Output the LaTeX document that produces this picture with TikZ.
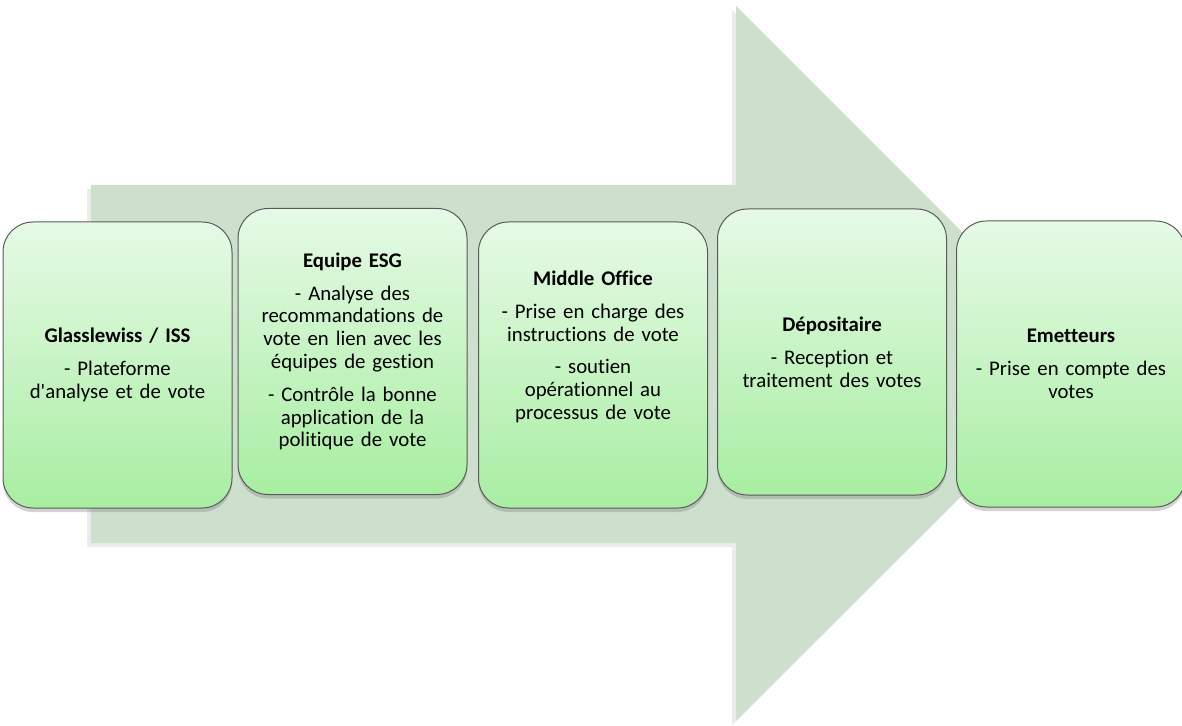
\documentclass[tikz,border=0pt]{standalone}
\usepackage{fontspec}
\setmainfont[Ligatures={TeX,NoCommon}]{Carlito}
\usepackage{tikz}
\usetikzlibrary{shadows,positioning,calc}
\definecolor{arrowgreen}{RGB}{205,224,205}
\definecolor{boxtop}{RGB}{230,250,230}
\definecolor{boxbottom}{RGB}{168,238,162}
\definecolor{boxline}{RGB}{90,90,90}
\begin{document}
\begin{tikzpicture}[x=0.5pt,y=-0.5pt,
            every node/.style={font=\fontsize{10.4}{11.4}\selectfont},
            stagebox/.style={draw=boxline,line width=0.5pt,top color=boxtop,
              bottom color=boxbottom,rounded corners=15pt,minimum width=114.5pt,
              minimum height=143pt,text width=110pt,align=center,inner sep=0pt,
              drop shadow={shadow xshift=0pt,shadow yshift=-2pt,opacity=0.35}},
            bigarrow/.style={fill=arrowgreen,
              drop shadow={shadow xshift=-2pt,shadow yshift=-2pt,opacity=0.15}}
            ]
            \useasboundingbox (0,0) rectangle (1182,726);
            \fill[bigarrow] (91,185) -- (736,185) -- (736,6) -- (1094,364)
            -- (736,721) -- (736,543) -- (91,543) -- cycle;
            \node[stagebox] (glass) at (117.5,365) {\textbf{Glasslewiss / ISS}\\[5pt]
              - Plateforme\\ d\textquotesingle analyse et de vote};
            \node[stagebox] (esg) at (352.5,351.5) {\textbf{Equipe ESG}\\[5pt]
              - Analyse des\\ recommandations de\\ vote en lien avec les\\
              équipes de gestion\\[5pt] - Contrôle la bonne\\ application de la\\
              politique de vote};
            \node[stagebox] (middle) at (593,365) {\textbf{Middle Office}\\[5pt]
              - Prise en charge des\\ instructions de vote\\[5pt] - soutien\\
              opérationnel au\\ processus de vote\\[5pt] \strut};
            \node[stagebox] (depo) at (832,352) {\textbf{Dépositaire}\\[5pt]
              - Reception et\\ traitement des votes};
            \node[stagebox] (emet) at (1071,364) {\textbf{Emetteurs}\\[5pt]
              - Prise en compte des\\ votes};
          \end{tikzpicture}
\end{document}
